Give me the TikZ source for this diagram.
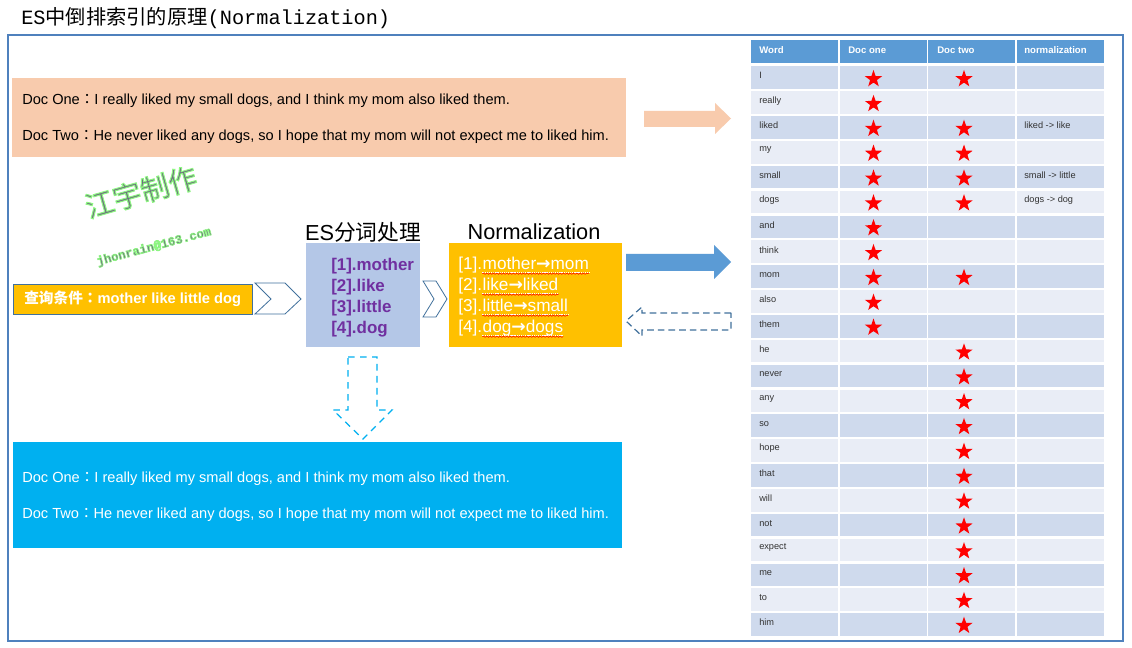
\documentclass[tikz,border=0pt]{standalone}
\usepackage{fontspec}
\setmainfont{Liberation Sans}
\newfontfamily\cjk{Noto Sans CJK SC}
\newfontfamily\cjktc{Noto Sans CJK TC}
\newfontfamily\monof{Liberation Mono}
\newfontfamily\djv{DejaVu Sans}
\usetikzlibrary{shapes.geometric,fit,decorations.pathmorphing}
\definecolor{frameblue}{HTML}{4F81BD}
\definecolor{peach}{HTML}{F8CBAD}
\definecolor{gold}{HTML}{FFC000}
\definecolor{lav}{HTML}{B4C7E7}
\definecolor{purp}{HTML}{7030A0}
\definecolor{cyanb}{HTML}{00B0F0}
\definecolor{midblue}{HTML}{5B9BD5}
\definecolor{darkblue}{HTML}{41719C}
\definecolor{rowA}{HTML}{CFDAED}
\definecolor{rowB}{HTML}{E9EDF6}
\definecolor{wmgrey}{HTML}{6E6E80}
\newcommand{\fc}{{\cjktc ：}}
\newcommand{\glowon}[1]{\special{pdf:literal direct 2 Tr #1 w 0.55 0.97 0.50 RG}}
\newcommand{\glowoff}{\special{pdf:literal direct 0 Tr}}
\begin{document}
\begin{tikzpicture}[x=0.75pt,y=-0.75pt,
  box/.style={inner sep=0pt,draw=none},
  doctext/.style={anchor=west,inner sep=0pt,font=\fontsize{10.95}{12}\selectfont},
  purptext/.style={anchor=west,inner sep=0pt,text=purp,font=\fontsize{12.7}{14}\selectfont\bfseries},
  normpre/.style={anchor=west,inner sep=0pt,text=white,font=\fontsize{12.9}{14}\selectfont},
  normrest/.style={anchor=base west,inner sep=0pt,text=white,font=\fontsize{12.9}{14}\selectfont},
  heading/.style={inner sep=0pt,font=\fontsize{16.3}{18}\selectfont},
  chevron/.style={draw=darkblue,fill=white,line width=0.6pt},
  cell/.style={anchor=west,inner sep=0pt,font=\fontsize{6.9}{8}\selectfont,text=black!80},
  hcell/.style={anchor=west,inner sep=0pt,font=\fontsize{7.2}{8}\selectfont\bfseries,text=white},
  redstar/.style={star,star points=5,star point ratio=2.5,fill=red,draw=none,minimum size=13.5pt,inner sep=0pt}
]
\useasboundingbox (0,0) rectangle (1132,648);
\fill[white] (0,0) rectangle (1132,648);

% title
\node[anchor=west,inner sep=0pt] (title) at (21,18) {\fontsize{15.2}{18}\selectfont\monof ES\cjk 中倒排索引的原理\monof (Normalization)};

% frame
\draw[frameblue,line width=0.8pt] (8,35) rectangle (1123,641);

% peach box
\node[box,fill=peach,fit={(12,78) (626,157)}] (peachbox) {};
\node[doctext] (p1) at (22,101) {Doc One\fc I really liked my small dogs, and I think my mom also liked them.};
\node[doctext] (p2) at (22,137) {Doc Two\fc He never liked any dogs, so I hope that my mom will not expect me to liked him.};

% peach arrow
\fill[peach] (644,111) -- (715,111) -- (715,103) -- (731,118.5) -- (715,134) -- (715,127) -- (644,127) -- cycle;

% watermark
\node[inner sep=0pt,rotate=16,text=wmgrey,font=\cjk\fontsize{21.5}{24}\selectfont] (wm1) at (141,192) {\glowon{0.75}江宇制作\glowoff};
\node[inner sep=0pt,rotate=15,text=wmgrey,font=\monof\fontsize{9.2}{11}\selectfont\bfseries] (wm2) at (154,247) {\glowon{0.5}jhonrain@163.com\glowoff};

% query box
\node[box,fill=gold,draw=darkblue,line width=0.6pt,fit={(13,284) (252,314)}] (query) {};
\node[inner sep=0pt,anchor=west,text=white,font=\fontsize{11}{12}\selectfont\bfseries] (qtext) at (24,299) {{\cjk\bfseries 查询条件}{\cjktc\bfseries ：}mother like little dog};

% chevrons
\draw[chevron] (255,283) -- (285,283) -- (301,299) -- (285,314) -- (255,314) -- (271,299) -- cycle;
\draw[chevron] (423,281) -- (436,281) -- (447,299) -- (436,317) -- (423,317) -- (434,299) -- cycle;

% ES tokenize box
\node[heading] (eshead) at (363,232) {ES{\cjk 分词处理}};
\node[box,fill=lav,fit={(306,243) (420,347)}] (esbox) {};
\node[purptext] (e1) at (331,266) {[1].mother};
\node[purptext] (e2) at (331,287) {[2].like};
\node[purptext] (e3) at (331,308) {[3].little};
\node[purptext] (e4) at (331,329) {[4].dog};

% normalization box
\node[heading] (nhead) at (534,232) {Normalization};
\node[box,fill=gold,fit={(449,243) (622,347)}] (nbox) {};
\foreach \i/\a/\b/\yy in {1/mother/mom/265,2/like/liked/286,3/little/small/307,4/dog/dogs/328}{
  \node[normpre] (np\i) at (458,\yy) {[\i].};
  \node[normrest] (nr\i) at (np\i.base east) {\a{\djv\bfseries →}\b};
  \draw[white,line width=0.5pt,dash pattern=on 1pt off 0.6pt] ([yshift=-1.8pt]nr\i.base west) -- ([yshift=-1.8pt]nr\i.base east);
  \draw[red,line width=0.4pt,decorate,decoration={snake,amplitude=0.5pt,segment length=2.5pt}] ([yshift=-3.2pt]nr\i.base west) -- ([yshift=-3.2pt]nr\i.base east);
}

% blue arrow to table
\fill[midblue] (626,254) -- (714,254) -- (714,245) -- (731,262) -- (714,279) -- (714,271) -- (626,271) -- cycle;

% dashed arrow back
\draw[darkblue,line width=0.9pt,dash pattern=on 5pt off 3pt,fill=white] (731,313) -- (642,313) -- (642,307) -- (626,321) -- (642,336) -- (642,330) -- (731,330) -- cycle;

% dashed down arrow
\draw[cyanb,line width=0.9pt,dash pattern=on 5pt off 4pt] (348,357) -- (377,357) -- (377,410) -- (392,410) -- (363,439) -- (333,410) -- (348,410) -- cycle;

% bottom box
\node[box,fill=cyanb,fit={(13,442) (622,548)}] (cbox) {};
\node[doctext,text=white] (c1) at (22,479) {Doc One\fc I really liked my small dogs, and I think my mom also liked them.};
\node[doctext,text=white] (c2) at (22,515) {Doc Two\fc He never liked any dogs, so I hope that my mom will not expect me to liked him.};

% table header
\fill[midblue] (751,40) rectangle (838,63);
\fill[midblue] (839.5,40) rectangle (926.5,63);
\fill[midblue] (928,40) rectangle (1015,63);
\fill[midblue] (1016.5,40) rectangle (1103.5,63);
\node[hcell] (h1) at (759,50.5) {Word};
\node[hcell] (h2) at (848,50.5) {Doc one};
\node[hcell] (h3) at (937,50.5) {Doc two};
\node[hcell] (h4) at (1024,50.5) {normalization};

% rows: word / doc1 / doc2 / norm
\foreach [count=\r] \w/\da/\db/\nm in {
  I/1/1/,really/1/0/,liked/1/1/liked -> like,my/1/1/,small/1/1/small -> little,dogs/1/1/dogs -> dog,
  and/1/0/,think/1/0/,mom/1/1/,also/1/0/,them/1/0/,he/0/1/,never/0/1/,any/0/1/,so/0/1/,hope/0/1/,
  that/0/1/,will/0/1/,not/0/1/,expect/0/1/,me/0/1/,to/0/1/,him/0/1/}{
  \pgfmathsetmacro{\yt}{66.5+24.85*(\r-1)}
  \pgfmathsetmacro{\yb}{\yt+22.6}
  \pgfmathsetmacro{\yc}{\yt+11.3}
  \pgfmathtruncatemacro{\odd}{mod(\r,2)}
  \ifnum\odd=1 \def\rc{rowA}\else\def\rc{rowB}\fi
  \fill[\rc] (751,\yt) rectangle (838,\yb);
  \fill[\rc] (839.5,\yt) rectangle (926.5,\yb);
  \fill[\rc] (928,\yt) rectangle (1015,\yb);
  \fill[\rc] (1016.5,\yt) rectangle (1103.5,\yb);
  \node[cell] (w\r) at (759,\yc-2) {\w};
  \node[cell] (n\r) at (1024,\yc-2) {\nm};
  \ifnum\da=1 \node[redstar] (sa\r) at (873.5,\yc+1.2) {};\fi
  \ifnum\db=1 \node[redstar] (sb\r) at (964,\yc+1.2) {};\fi
}
\end{tikzpicture}
\end{document}
